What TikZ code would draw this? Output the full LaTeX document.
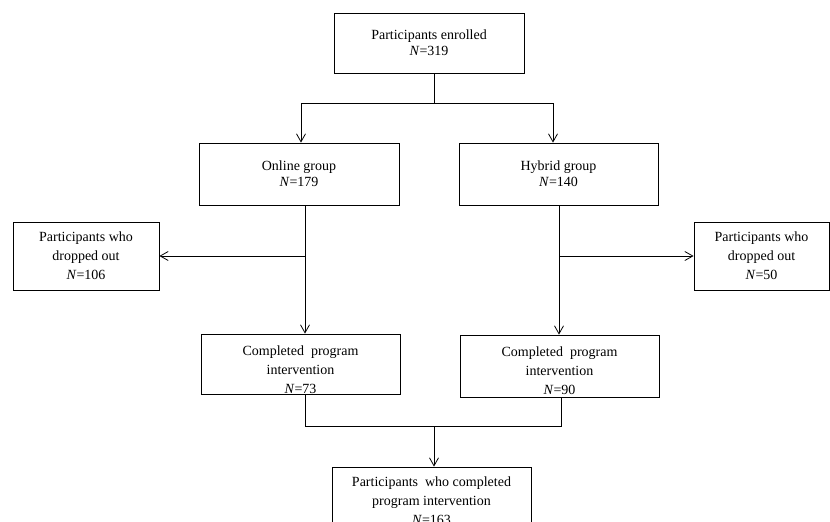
\documentclass[tikz,border=0pt]{standalone}
\usepackage{fontspec}
\setmainfont{Liberation Serif}
\usetikzlibrary{arrows.meta,calc}
\begin{document}
\begin{tikzpicture}[x=1pt,y=-1pt,
  box/.style={draw, line width=0.8pt, rectangle, inner sep=0pt, align=center,
    font=\fontsize{14}{16}\selectfont},
  boxthree/.style={box, font=\fontsize{14}{19}\selectfont},
  txt/.style={align=center, inner sep=0pt, font=\fontsize{14}{19}\selectfont},
  link/.style={line width=0.8pt},
  arr/.style={link, -{Straight Barb[length=8pt,width=9pt]}}]
\useasboundingbox (0,0) rectangle (830,522);
\clip (0,0) rectangle (830,522);

% boxes
\node[box, minimum width=190, minimum height=60] (enrol) at (429,43)
  {Participants enrolled\\\textit{N}=319};
\node[box, minimum width=200, minimum height=62] (online) at (299,174)
  {Online group\\\textit{N}=179};
\node[box, minimum width=199, minimum height=62] (hybrid) at (558.5,174)
  {Hybrid group\\\textit{N}=140};
\node[boxthree, minimum width=146, minimum height=68] (dropL) at (86,256)
  {Participants who\\dropped out\\\textit{N}=106};
\node[boxthree, minimum width=135, minimum height=68] (dropR) at (761.5,256)
  {Participants who\\dropped out\\\textit{N}=50};
\node[box, minimum width=199, minimum height=60,
  label={[txt, yshift=-6pt]center:{Completed\ \ program\\intervention\\\textit{N}=73}}]
  (compL) at (300.5,364) {};
\node[box, minimum width=199, minimum height=62,
  label={[txt, yshift=-5pt]center:{Completed\ \ program\\intervention\\\textit{N}=90}}]
  (compR) at (559.5,366) {};
\node[box, minimum width=199, minimum height=66,
  label={[txt, yshift=-1pt]center:{Participants\ \ who completed\\program intervention\\\textit{N}=163}}]
  (final) at (431.5,500) {};

% split into the two groups
\coordinate (split) at ($(enrol.south)+(5,30)$);
\draw[link] ([xshift=5pt]enrol.south) -- (split);
\draw[arr] (split) -| ([xshift=2pt]online.north);
\draw[arr] (split) -| ([xshift=-5.5pt]hybrid.north);

% online branch
\draw[arr] ([xshift=6pt]online.south) -- ([xshift=6pt]online.south |- compL.north);
\coordinate (bL) at ([xshift=6pt]online.south |- dropL.east);
\draw[arr] (bL) -- (dropL.east);

% hybrid branch
\draw[arr] ([xshift=0.5pt]hybrid.south) -- ([xshift=0.5pt]hybrid.south |- compR.north);
\coordinate (bR) at ([xshift=0.5pt]hybrid.south |- dropR.west);
\draw[arr] (bR) -- (dropR.west);

% merge of completers
\coordinate (mL) at ($(compL.south)+(4.5,32)$);
\draw[link] ([xshift=4.5pt]compL.south) -- (mL) -| ([xshift=1.5pt]compR.south);
\draw[arr] ([xshift=2.5pt]final.north |- mL) -- ([xshift=2.5pt]final.north);
\end{tikzpicture}
\end{document}
